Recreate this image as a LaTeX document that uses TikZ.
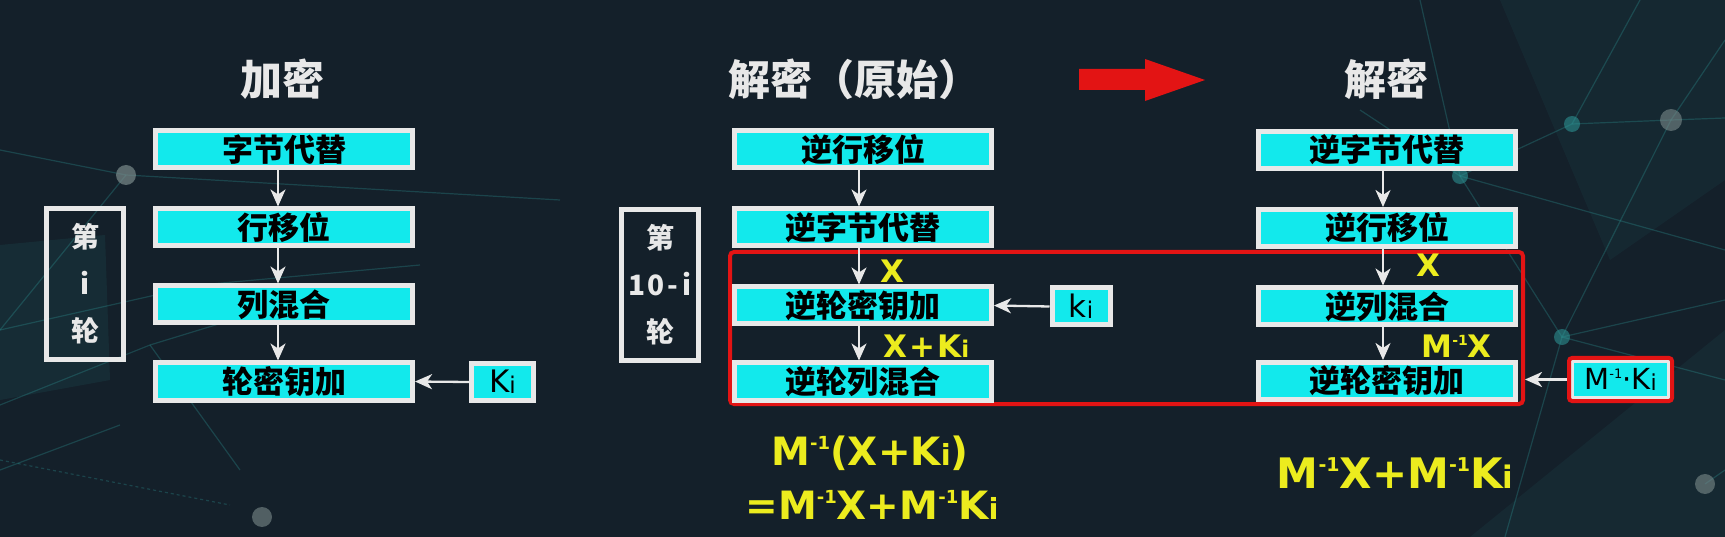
\documentclass[tikz,border=0pt]{standalone}
\usepackage{fontspec}
\setmainfont{Noto Sans CJK SC}
\newfontfamily\lat{DejaVu Sans}
\usetikzlibrary{arrows.meta}
\definecolor{bg}{HTML}{14202A}
\definecolor{cy}{HTML}{12E9EC}
\definecolor{bw}{HTML}{E8E8E8}
\definecolor{rd}{HTML}{E31414}
\definecolor{yl}{HTML}{ECEC1E}
\definecolor{tl}{HTML}{2E9A9A}
\definecolor{dotg}{HTML}{7A8A8A}
\newcommand\mys[3]{\raisebox{#2}{\fontsize{#1}{#1}\selectfont #3}}
\begin{document}
\begin{tikzpicture}[x=1pt,y=-1pt,
  box/.style={draw=bw, line width=5pt, fill=cy, minimum width=257pt, minimum height=37pt, inner sep=0pt, text=black, font=\fontsize{31}{31}\selectfont\bfseries},
  keybox/.style={draw=bw, line width=5pt, fill=cy, minimum width=58pt, minimum height=37pt, inner sep=0pt, text=black, font=\lat\fontsize{31}{31}\selectfont},
  arr/.style={draw=bw, line width=2.3pt, -{Stealth[length=17pt,width=15pt,inset=5pt]}},
  ttl/.style={text=bw, font=\fontsize{42}{42}\selectfont\bfseries},
  rnd/.style={draw=bw, line width=5pt, minimum width=77pt, minimum height=151pt, inner sep=0pt, align=center, text=bw, font=\fontsize{28}{47}\selectfont\bfseries},
  lab/.style={text=yl, anchor=base, font=\lat\bfseries\fontsize{31}{31}\selectfont},
  deco/.style={draw=tl, line width=1.2pt, opacity=0.3},
  ddot/.style={fill=tl, opacity=0.55},
]
\fill[bg] (0,0) rectangle (1725,537);
\useasboundingbox (0,0) rectangle (1725,537);

% background decoration
\fill[tl, opacity=0.10] (0,245) -- (105,235) -- (110,380) -- (0,400) -- cycle;
\fill[tl, opacity=0.08] (1470,537) -- (1725,330) -- (1725,537) -- cycle;
\fill[tl, opacity=0.07] (1500,0) -- (1725,0) -- (1725,180) -- (1610,260) -- cycle;
\draw[deco] (0,150) -- (126,175) -- (560,200);
\draw[deco] (126,175) -- (0,330);
\draw[deco] (0,330) -- (200,285) -- (420,265);
\draw[deco] (0,405) -- (150,345) -- (330,290);
\draw[deco] (0,470) -- (120,425);
\draw[deco] (150,345) -- (240,470);
\draw[deco, dashed] (0,460) -- (230,505);
\draw[deco] (1420,0) -- (1460,176) -- (1725,250);
\draw[deco] (1360,110) -- (1460,176);
\draw[deco] (1460,176) -- (1572,124) -- (1671,120) -- (1725,118);
\draw[deco] (1572,124) -- (1640,0);
\draw[deco] (1671,120) -- (1725,40);
\draw[deco] (1671,120) -- (1562,337) -- (1725,300);
\draw[deco] (1460,176) -- (1562,337) -- (1505,537);
\draw[deco] (1562,337) -- (1725,380);
\draw[deco] (1705,484) -- (1725,470);
\fill[dotg, opacity=0.7] (126,175) circle (10);
\fill[dotg, opacity=0.6] (262,517) circle (10);
\fill[dotg, opacity=0.6] (1705,484) circle (10);
\fill[dotg, opacity=0.6] (1671,120) circle (11);
\fill[ddot] (1572,124) circle (8);
\fill[ddot] (1460,176) circle (8);
\fill[ddot] (1562,337) circle (8);

% red transition arrow
\fill[rd] (1079,69) -- (1145,69) -- (1145,59) -- (1205,80) -- (1145,101) -- (1145,90) -- (1079,90) -- cycle;

% titles
\node[ttl] (t1) at (282,79) {加密};
\node[ttl] (t2) at (854,79) {解密（原始）};
\node[ttl] (t3) at (1386,79) {解密};

% red frame
\node[draw=rd, line width=4pt, rounded corners=4pt, minimum width=793pt, minimum height=152pt, inner sep=0pt] (red) at (1126.5,328) {};

% left column
\node[box] (a1) at (284,149.5) {字节代替};
\node[box] (a2) at (284,227.5) {行移位};
\node[box] (a3) at (284,304.5) {列混合};
\node[box] (a4) at (284,381.5) {轮密钥加};
\node[rnd] (r1) at (85,284) {第\\i\\轮};
\node[keybox, minimum width=62pt] (k1) at (502.5,382) {K\mys{23}{-1pt}{i}};
\draw[arr] ([xshift=-6pt]a1.south) -- ([xshift=-6pt]a2.north);
\draw[arr] ([xshift=-6pt]a2.south) -- ([xshift=-6pt]a3.north);
\draw[arr] ([xshift=-6pt]a3.south) -- ([xshift=-6pt]a4.north);
\draw[arr] (k1.west) -- (a4.east);

% middle column
\node[box] (b1) at (863,149.5) {逆行移位};
\node[box] (b2) at (863,227.5) {逆字节代替};
\node[box] (b3) at (863,305.5) {逆轮密钥加};
\node[box] (b4) at (863,381.5) {逆轮列混合};
\node[rnd] (r2) at (660,285) {第\\1\hspace{2pt}0\hspace{3pt}-\hspace{4pt}i\\轮};
\node[keybox] (k2) at (1081,306.5) {k\mys{23}{-1pt}{i}};
\draw[arr] ([xshift=-4pt]b1.south) -- ([xshift=-4pt]b2.north);
\draw[arr] ([xshift=-4pt]b2.south) -- ([xshift=-4pt]b3.north);
\draw[arr] ([xshift=-4pt]b3.south) -- ([xshift=-4pt]b4.north);
\draw[arr] (k2.west) -- (b3.east);
\node[lab] (x1) at (892,283) {X};
\node[lab, anchor=base west] (x2) at (880,358) {X\hspace{2pt}+\hspace{2pt}K\mys{23}{0pt}{i}};

% right column
\node[box] (c1) at (1387,150) {逆字节代替};
\node[box] (c2) at (1387,228) {逆行移位};
\node[box] (c3) at (1387,306.5) {逆列混合};
\node[box] (c4) at (1387,381) {逆轮密钥加};
\draw[arr] ([xshift=-4pt]c1.south) -- ([xshift=-4pt]c2.north);
\draw[arr] ([xshift=-4pt]c2.south) -- ([xshift=-4pt]c3.north);
\draw[arr] ([xshift=-4pt]c3.south) -- ([xshift=-4pt]c4.north);
\node[lab] (x3) at (1428,277) {X};
\node[lab, anchor=base west] (x4) at (1418,358) {M\mys{14}{12pt}{-1}X};
\node[draw=bw, line width=3pt, fill=cy, minimum width=96pt, minimum height=36pt, inner sep=0pt, text=black, font=\lat\fontsize{29}{29}\selectfont] (m) at (1620.5,379.5) {M\mys{13}{11.5pt}{-1}·K\mys{22}{-1pt}{i}};
\node[draw=rd, line width=4pt, rounded corners=3pt, minimum width=103pt, minimum height=43pt, inner sep=0pt] (mf) at (m.center) {};
\draw[arr] (mf.west) -- (red.east |- mf.west);

% formulas
\node[lab, font=\lat\bfseries\fontsize{39}{39}\selectfont] (f1) at (870,465) {M\mys{18}{15.5pt}{-1}(X+K\mys{29}{0pt}{i})};
\node[lab, font=\lat\bfseries\fontsize{39}{39}\selectfont] (f2) at (872,519) {=M\mys{18}{15.5pt}{-1}X+M\mys{18}{15.5pt}{-1}K\mys{29}{0pt}{i}};
\node[lab, font=\lat\bfseries\fontsize{42}{42}\selectfont] (f3) at (1395,488) {M\mys{19}{16.5pt}{-1}X+M\mys{19}{16.5pt}{-1}K\mys{31}{0pt}{i}};
\end{tikzpicture}
\end{document}
